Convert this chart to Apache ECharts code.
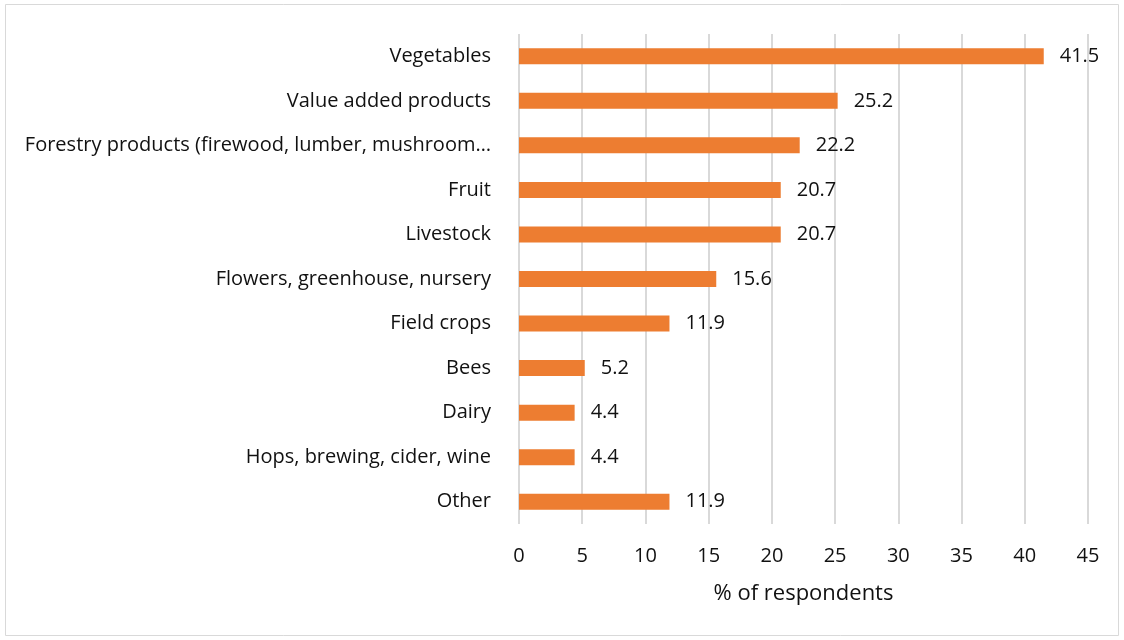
<!DOCTYPE html>
<html><head><meta charset="utf-8">
<script src="https://cdn.jsdelivr.net/npm/echarts@6/dist/echarts.min.js"></script>
<style>html,body{margin:0;padding:0;background:#fff}#c{width:1124px;height:640px}</style>
</head><body><div id="c"></div>
<script>
const categories = ["Vegetables","Value added products","Forestry products (firewood, lumber, mushroom…","Fruit","Livestock","Flowers, greenhouse, nursery","Field crops","Bees","Dairy","Hops, brewing, cider, wine","Other"];
const values = [41.5,25.2,22.2,20.7,20.7,15.6,11.9,5.2,4.4,4.4,11.9];
const xTicks = {min:0, max:45, interval:5};
const axisTitle = "% of respondents";

const font = "'Open Sans', 'Noto Sans', sans-serif";
const chart = echarts.init(document.getElementById('c'), null, {renderer:'canvas'});
chart.setOption({
  animation:false,
  backgroundColor:'#fff',
  graphic:[{type:'rect', shape:{x:5.5,y:4.5,width:1113,height:631}, style:{fill:'none', stroke:'#d9d9d9', lineWidth:1}, silent:true}],
  grid:{left:519, right:36, top:34, bottom:116, containLabel:false},
  xAxis:{type:'value', min:xTicks.min, max:xTicks.max, interval:xTicks.interval,
    axisLine:{show:false}, axisTick:{show:false},
    splitLine:{show:true, lineStyle:{color:'#d9d9d9', width:2}},
    axisLabel:{color:'#111', fontSize:20, fontFamily:font, margin:22},
    name:axisTitle, nameLocation:'middle', nameGap:59,
    nameTextStyle:{color:'#111', fontSize:22, fontFamily:font, verticalAlign:'top'}
  },
  yAxis:{type:'category', data:categories, inverse:true,
    axisLine:{show:false}, axisTick:{show:false},
    axisLabel:{color:'#111', fontSize:20, fontFamily:font, margin:28}
  },
  series:[{type:'bar', data:values, barWidth:16,
    itemStyle:{color:'#ED7D31'},
    label:{show:true, position:'right', distance:16, color:'#111', fontSize:20, fontFamily:font,
      formatter:p=>p.value.toFixed(1)}
  }]
});
</script></body></html>
